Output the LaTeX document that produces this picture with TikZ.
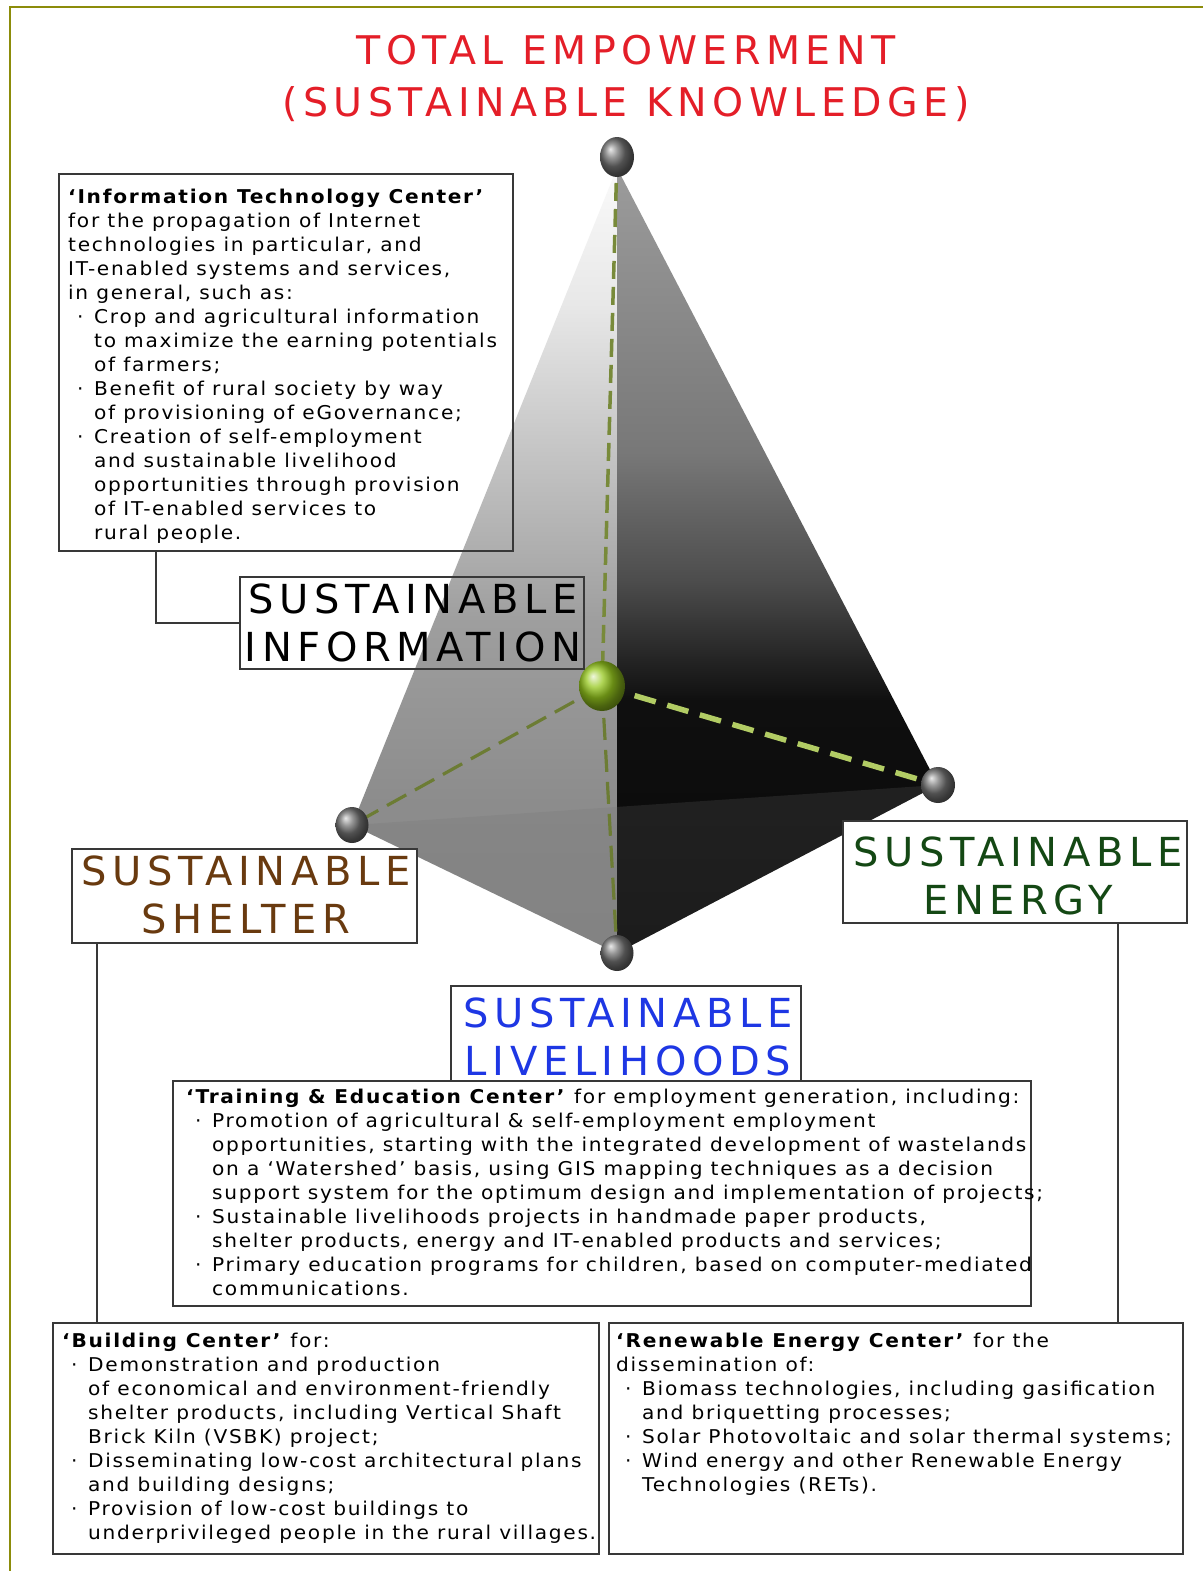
\documentclass[tikz,border=0pt]{standalone}
\usepackage{fontspec}
\setmainfont{DejaVu Sans}[LetterSpace=9, FakeStretch=1.06]
\newfontfamily\bigfam{DejaVu Sans}[LetterSpace=14]
\usetikzlibrary{shapes.geometric,calc}

\definecolor{framecol}{RGB}{140,140,10}
\definecolor{titlered}{RGB}{228,30,40}
\definecolor{shelterbrown}{RGB}{105,58,15}
\definecolor{energygreen}{RGB}{20,72,20}
\definecolor{liveblue}{RGB}{30,55,228}
\definecolor{dashdark}{RGB}{120,138,58}
\definecolor{dashlight}{RGB}{178,204,100}
\definecolor{greenballcol}{RGB}{150,200,30}

\pgfdeclareverticalshading{leftfaceshade}{100bp}{color(0bp)=(white!53!black); color(25bp)=(white!53!black); color(34.7bp)=(white!55!black); color(46.1bp)=(white!62!black); color(56.9bp)=(white!77!black); color(66.4bp)=(white!91!black); color(75bp)=(white!98!black); color(100bp)=(white!98!black)}
\pgfdeclareverticalshading{rightfaceshade}{100bp}{color(0bp)=(white!3!black); color(25bp)=(white!3!black); color(41.1bp)=(white!6!black); color(48.7bp)=(white!30!black); color(56.9bp)=(white!47!black); color(75bp)=(white!61!black); color(100bp)=(white!61!black)}

\newcommand{\bodyfont}{\fontsize{19}{24}\selectfont}
\newcommand{\labelfont}{\bigfam\fontsize{40}{48}\selectfont}
\newcommand{\titlefont}{\bigfam\fontsize{39.5}{52}\selectfont}
\newcommand{\bul}{\makebox[26pt][l]{\hspace{9pt}·}}
\newcommand{\ind}{\hspace*{26pt}}

\begin{document}
\begin{tikzpicture}[x=1pt,y=-1pt,
  boxst/.style={draw=black!78, line width=1.6pt, inner sep=0pt, anchor=north west},
  conn/.style={draw=black!78, line width=1.6pt},
  txt/.style={inner sep=0pt, anchor=base west},
  biglabel/.style={inner sep=0pt, anchor=base},
  greyball/.style={ellipse, inner sep=0pt, shading=ball, ball color=black!55},
  greenball/.style={ellipse, inner sep=0pt, shading=ball, ball color=greenballcol},
  dashtop/.style={draw=dashdark, line width=3.5pt, dash pattern=on 18pt off 8pt},
  dashthin/.style={draw=dashdark!90!black, line width=3.2pt, dash pattern=on 22pt off 10pt},
  dashright/.style={draw=dashlight, line width=5.5pt, dash pattern=on 22pt off 12pt}]
\useasboundingbox (0,0) rectangle (1203,1571);
\fill[white] (0,0) rectangle (1203,1571);

% frame
\draw[framecol, line width=2.5pt] (10,1571) -- (10,7) -- (1203,7);

% tetrahedron
\coordinate (T) at (617,157);
\coordinate (A) at (617,168);
\coordinate (L) at (352,825);
\coordinate (B) at (617,953);
\coordinate (R) at (938,785);
\coordinate (C) at (602,686);

\shade[shading=leftfaceshade] (A) -- (L) -- (B) -- cycle;
\shade[shading=rightfaceshade] (A) -- (B) -- (R) -- cycle;
\fill[white!44!black, opacity=0.2] (L) -- (B) -- (R) -- cycle;

\draw[dashtop] (T) -- (C);
\draw[dashthin] (C) -- (B);
\draw[dashthin] (C) -- (L);
\draw[dashright] (C) -- (R);

\node[greyball, minimum width=34pt, minimum height=40pt] (vT) at (T) {};
\node[greyball, minimum width=33pt, minimum height=36pt] (vL) at (L) {};
\node[greyball, minimum width=33pt, minimum height=36pt] (vB) at (B) {};
\node[greyball, minimum width=34pt, minimum height=36pt] (vR) at (R) {};
\node[greenball, minimum width=46pt, minimum height=50pt] (vC) at (C) {};

% boxes
\node[boxst, minimum width=454pt, minimum height=377pt] (itbox) at (58,173) {};
\node[boxst, minimum width=344pt, minimum height=92pt] (infobox) at (239,576) {};
\node[boxst, fill=white, minimum width=345pt, minimum height=94pt] (shelterbox) at (71,848) {};
\node[boxst, fill=white, minimum width=344pt, minimum height=102pt] (energybox) at (842,820) {};
\node[boxst, fill=white, minimum width=350pt, minimum height=95pt] (livebox) at (450,985) {};
\node[boxst, fill=white, minimum width=858pt, minimum height=225pt] (trainbox) at (172,1080) {};
\node[boxst, minimum width=546pt, minimum height=231pt] (buildbox) at (52,1322) {};
\node[boxst, minimum width=574pt, minimum height=231pt] (renewbox) at (608,1322) {};

% connectors
\draw[conn] ([xshift=98pt]itbox.south west) |- (infobox.west);
\draw[conn] ([xshift=26pt]shelterbox.south west) -- ([xshift=26pt]shelterbox.south west |- buildbox.north);
\draw[conn] ([xshift=-69.5pt]energybox.south east) -- ([xshift=-69.5pt]energybox.south east |- renewbox.north);

% title
\node[biglabel, text=titlered] (title) at (626,64) {\titlefont\begin{tabular}[t]{@{}c@{}}TOTAL EMPOWERMENT\\(SUSTAINABLE KNOWLEDGE)\end{tabular}};

% big labels
\node[biglabel, text=black] (infotext) at (413,613) {\labelfont\begin{tabular}[t]{@{}c@{}}SUSTAINABLE\\INFORMATION\end{tabular}};
\node[biglabel, text=shelterbrown] (sheltertext) at (246,885) {\labelfont\begin{tabular}[t]{@{}c@{}}SUSTAINABLE\\SHELTER\end{tabular}};
\node[biglabel, text=energygreen] (energytext) at (1018,866) {\labelfont\begin{tabular}[t]{@{}c@{}}SUSTAINABLE\\ENERGY\end{tabular}};
\node[biglabel, text=liveblue] (livetext) at (628,1027) {\labelfont\begin{tabular}[t]{@{}c@{}}SUSTAINABLE\\LIVELIHOODS\end{tabular}};

% text blocks
\node[txt] (ittext) at (68,203) {\parbox[t]{1000pt}{\bodyfont
\textbf{‘Information Technology Center’}\\
for the propagation of Internet\\
technologies in particular, and\\
IT-enabled systems and services,\\
in general, such as:\\
\bul Crop and agricultural information\\
\ind to maximize the earning potentials\\
\ind of farmers;\\
\bul Benefit of rural society by way\\
\ind of provisioning of eGovernance;\\
\bul Creation of self-employment\\
\ind and sustainable livelihood\\
\ind opportunities through provision\\
\ind of IT-enabled services to\\
\ind rural people.}};

\node[txt] (traintext) at (186,1103) {\parbox[t]{1000pt}{\bodyfont
\textbf{‘Training \& Education Center’} for employment generation, including:\\
\bul Promotion of agricultural \& self-employment employment\\
\ind opportunities, starting with the integrated development of wastelands\\
\ind on a ‘Watershed’ basis, using GIS mapping techniques as a decision\\
\ind support system for the optimum design and implementation of projects;\\
\bul Sustainable livelihoods projects in handmade paper products,\\
\ind shelter products, energy and IT-enabled products and services;\\
\bul Primary education programs for children, based on computer-mediated\\
\ind communications.}};

\node[txt] (buildtext) at (62,1347) {\parbox[t]{1000pt}{\bodyfont
\textbf{‘Building Center’} for:\\
\bul Demonstration and production\\
\ind of economical and environment-friendly\\
\ind shelter products, including Vertical Shaft\\
\ind Brick Kiln (VSBK) project;\\
\bul Disseminating low-cost architectural plans\\
\ind and building designs;\\
\bul Provision of low-cost buildings to\\
\ind underprivileged people in the rural villages.}};

\node[txt] (renewtext) at (616,1347) {\parbox[t]{1000pt}{\bodyfont
\textbf{‘Renewable Energy Center’} for the\\
dissemination of:\\
\bul Biomass technologies, including gasification\\
\ind and briquetting processes;\\
\bul Solar Photovoltaic and solar thermal systems;\\
\bul Wind energy and other Renewable Energy\\
\ind Technologies (RETs).}};
\end{tikzpicture}
\end{document}
